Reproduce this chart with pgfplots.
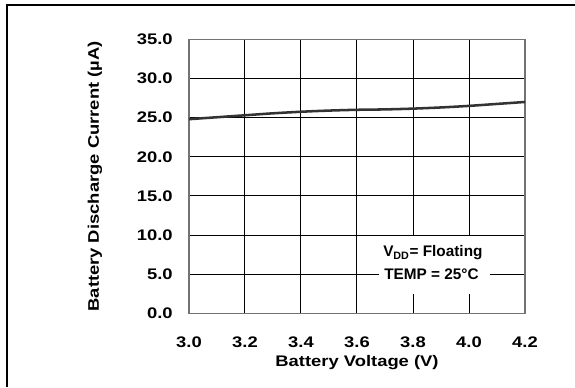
\documentclass[border=0pt]{standalone}
\usepackage{fontspec}
\setmainfont{Liberation Sans}[FakeStretch=1.2]
\newfontfamily\notefont{Liberation Sans}
\usepackage{pgfplots}
\pgfplotsset{compat=1.18}
\definecolor{curve}{HTML}{333333}
\begin{document}
\begin{tikzpicture}
\begin{axis}[
  at={(0,0)}, anchor=south west,
  scale only axis,
  width=252pt, height=205.5pt,
  xmin=3.0, xmax=4.2, ymin=0, ymax=35,
  xtick={3.0,3.2,...,4.2},
  ytick={0,5,...,35},
  grid=major,
  major grid style={black, line width=0.75pt},
  axis line style={black!55, line width=0.8pt},
  major tick length=0pt,
  font=\fontsize{11.5}{13}\selectfont\bfseries,
  /pgf/number format/assume math mode=true,
  /pgf/number format/.cd, fixed, fixed zerofill, precision=1,
  /pgfplots/.cd,
  xticklabel style={anchor=center, yshift=-21.75pt},
  yticklabel style={anchor=east, xshift=-8.7pt},
  xlabel={Battery Voltage (V)},
  ylabel={Battery Discharge Current (µA)},
  xlabel style={at={(axis description cs:0.5,-0.178)}, anchor=center},
  ylabel style={at={(axis description cs:-0.28,0.5)}, anchor=center},
  clip=false,
]
% discharge current versus battery voltage
\addplot[curve, line width=1.9pt, smooth] coordinates {
  (3.0,24.8) (3.1,25.05) (3.2,25.3) (3.3,25.55) (3.4,25.75) (3.5,25.9)
  (3.6,26.0) (3.7,26.05) (3.8,26.15) (3.9,26.3) (4.0,26.5) (4.1,26.75) (4.2,27.0)
};
% conditions note
\fill[white] (axis cs:3.68,2.5) rectangle (axis cs:4.075,9.85);
\node[font=\notefont\fontsize{11.5}{13}\selectfont\bfseries] at (axis cs:3.871,7.7)
  {V\textsubscript{DD}= Floating};
\node[font=\notefont\fontsize{11.5}{13}\selectfont\bfseries] at (axis cs:3.866,5.0)
  {TEMP = 25°C};
\end{axis}
% page frame
\draw[black, line width=1.5pt] (-136.5pt,-55.3pt) -- (-136.5pt,231.2pt) -- (289.5pt,231.2pt);
\pgfresetboundingbox
\path[use as bounding box] (-141.75pt,-55.3pt) rectangle (289.5pt,235pt);
\end{tikzpicture}
\end{document}
